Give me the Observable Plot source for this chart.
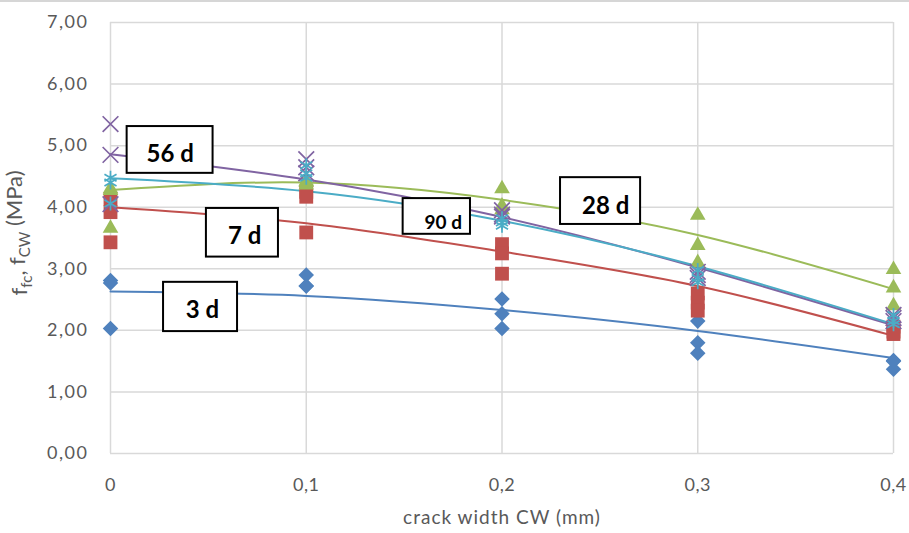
<!DOCTYPE html>
<html>
<head>
<meta charset="utf-8">
<script src="https://cdn.jsdelivr.net/npm/d3@7"></script>
<script src="https://cdn.jsdelivr.net/npm/@observablehq/plot@0.6"></script>
<style>
  html, body { margin: 0; padding: 0; background: #fff; }
</style>
</head>
<body>
<div id="chart"></div>
<script>
// crack widths (mm)
const crackWidths = [0, 0.1, 0.2, 0.3, 0.4];
const xTicks = [0, 0.1, 0.2, 0.3, 0.4];
const yTicks = [0, 1, 2, 3, 4, 5, 6, 7];

// series names
const seriesNames = ["3 d", "7 d", "28 d", "56 d", "90 d"];

// measured values (three specimens per crack width), MPa
const vals3d  = [[2.81, 2.77, 2.03], [2.90, 2.72, 2.72], [2.51, 2.27, 2.03], [2.15, 1.80, 1.63], [1.51, 1.37, 1.50]];
const vals7d  = [[4.13, 3.92, 3.43], [4.25, 4.17, 3.59], [3.40, 3.25, 2.92], [2.60, 2.45, 2.32], [2.06, 1.98, 1.94]];
const vals28d = [[4.30, 4.27, 3.66], [4.40, 4.36, 4.42], [4.30, 4.02, 3.96], [3.87, 3.38, 3.10], [2.99, 2.69, 2.40]];
const vals56d = [[5.35, 4.85, 4.05], [4.78, 4.65, 4.55], [3.95, 3.88, 3.85], [2.95, 2.90, 2.85], [2.25, 2.20, 2.15]];
const vals90d = [[4.48, 4.06, 4.40], [4.68, 4.55, 4.48], [3.82, 3.75, 3.70], [2.98, 2.85, 2.78], [2.25, 2.15, 2.10]];

// trend-line values read at each crack width
const trend3d  = [2.63, 2.56, 2.33, 1.99, 1.55];
const trend7d  = [4.00, 3.74, 3.28, 2.72, 1.91];
const trend28d = [4.28, 4.40, 4.12, 3.55, 2.67];
const trend56d = [4.86, 4.45, 3.84, 3.02, 2.08];
const trend90d = [4.47, 4.26, 3.78, 3.04, 2.10];

// label annotations (data coordinates of the boxes)
const labelTexts = ["56 d", "7 d", "3 d", "90 d", "28 d"];
const labelBoxX1 = [0.0085, 0.049, 0.0271, 0.1495, 0.2299];
const labelBoxX2 = [0.0524, 0.0858, 0.0649, 0.1839, 0.2708];
const labelBoxY1 = [4.55, 3.19, 1.98, 3.56, 3.72];
const labelBoxY2 = [5.31, 3.98, 2.78, 4.14, 4.48];
const labelTextX = [0.0305, 0.0685, 0.0470, 0.1700, 0.2530];
const labelTextY = [4.86, 3.53, 2.32, 3.74, 4.02];
const labelSize  = [24, 24, 24, 19, 24];

const allVals = [vals3d, vals7d, vals28d, vals56d, vals90d];
const allTrend = [trend3d, trend7d, trend28d, trend56d, trend90d];

const colors = ["#4F81BD", "#C0504D", "#9BBB59", "#8064A2", "#4BACC6"];
const symbols = ["diamond2", "square", "triangle", "times", "asterisk"];
const radii = [7.0, 7.8, 5.8, 7.2, 6.6];
const filled = [true, true, true, false, false];

const points = [];
const trends = [];
seriesNames.forEach((s, i) => {
  crackWidths.forEach((cw, j) => {
    allVals[i][j].forEach(v => points.push({series: s, idx: i, cw, v}));
    trends.push({series: s, idx: i, cw, v: allTrend[i][j]});
  });
});

const labels = labelTexts.map((t, i) => ({
  t, x1: labelBoxX1[i], x2: labelBoxX2[i], y1: labelBoxY1[i], y2: labelBoxY2[i],
  tx: labelTextX[i], ty: labelTextY[i], size: labelSize[i]
}));

const fmtY = d => d.toFixed(2).replace(".", ",");
const fmtX = d => d === 0 ? "0" : String(+d.toFixed(1)).replace(".", ",");

const marks = [
  Plot.ruleX(xTicks, {stroke: "#d9d9d9", strokeWidth: 1.5}),
  Plot.ruleY(yTicks, {stroke: "#d9d9d9", strokeWidth: 1.5}),
  Plot.axisX(xTicks, {tickSize: 0, tickPadding: 25, tickFormat: fmtX, label: null, fontSize: 18}),
  Plot.axisY(yTicks, {tickSize: 0, tickPadding: 22, tickFormat: fmtY, label: null, fontSize: 18})
];

seriesNames.forEach((s, i) => {
  marks.push(Plot.line(trends.filter(d => d.idx === i), {
    x: "cw", y: "v", stroke: colors[i], strokeWidth: 2, curve: "natural"
  }));
});
seriesNames.forEach((s, i) => {
  marks.push(Plot.dot(points.filter(d => d.idx === i), {
    x: "cw", y: "v", symbol: symbols[i], r: radii[i],
    fill: filled[i] ? colors[i] : "none",
    stroke: colors[i], strokeWidth: filled[i] ? 0 : 1.7
  }));
});

labels.forEach(l => {
  marks.push(Plot.rect([l], {x1: "x1", x2: "x2", y1: "y1", y2: "y2", fill: "white", stroke: "black", strokeWidth: 2}));
  marks.push(Plot.text([l], {x: "tx", y: "ty", text: "t", fontSize: l.size, fontWeight: "bold", fill: "black"}));
});

marks.push(Plot.text(["crack width CW (mm)"], {frameAnchor: "bottom", dy: 70, fontSize: 19, fill: "#595959"}));

const chart = Plot.plot({
  width: 909,
  height: 533,
  marginLeft: 110,
  marginRight: 16,
  marginTop: 22,
  marginBottom: 80,
  x: {domain: [0, 0.4]},
  y: {domain: [0, 7]},
  style: {fontFamily: "Lato, 'Open Sans', sans-serif", fontSize: "16px", color: "#595959", background: "white", overflow: "visible"},
  marks
});

const svg = d3.select(chart);
svg.insert("line", ":first-child")
  .attr("x1", 0).attr("x2", 909).attr("y1", 1).attr("y2", 1)
  .attr("stroke", "#c8c8c8").attr("stroke-width", 1.5);

// widen tick labels and axis title slightly, like the reference rendering
svg.selectAll("g[aria-label='y-axis tick label'] text").attr("letter-spacing", "1.5px");
svg.selectAll("g[aria-label='x-axis tick label'] text").attr("letter-spacing", "0.5px");
svg.selectAll("g[aria-label='text'] text").filter(function() { return this.textContent === "crack width CW (mm)"; })
  .attr("letter-spacing", "1px");

const yl = svg.append("text")
  .attr("transform", "translate(27,233) rotate(-90)")
  .attr("text-anchor", "middle")
  .attr("font-size", 22)
  .attr("fill", "#595959")
  .attr("font-family", "Lato, 'Open Sans', sans-serif");
yl.append("tspan").text("f");
yl.append("tspan").attr("font-size", 15).attr("dy", "0.35em").text("fc");
yl.append("tspan").attr("dy", "-0.35em").text(", f");
yl.append("tspan").attr("font-size", 15).attr("dy", "0.35em").text("CW");
yl.append("tspan").attr("dy", "-0.35em").text(" (MPa)");

document.getElementById("chart").appendChild(chart);
</script>
</body>
</html>
